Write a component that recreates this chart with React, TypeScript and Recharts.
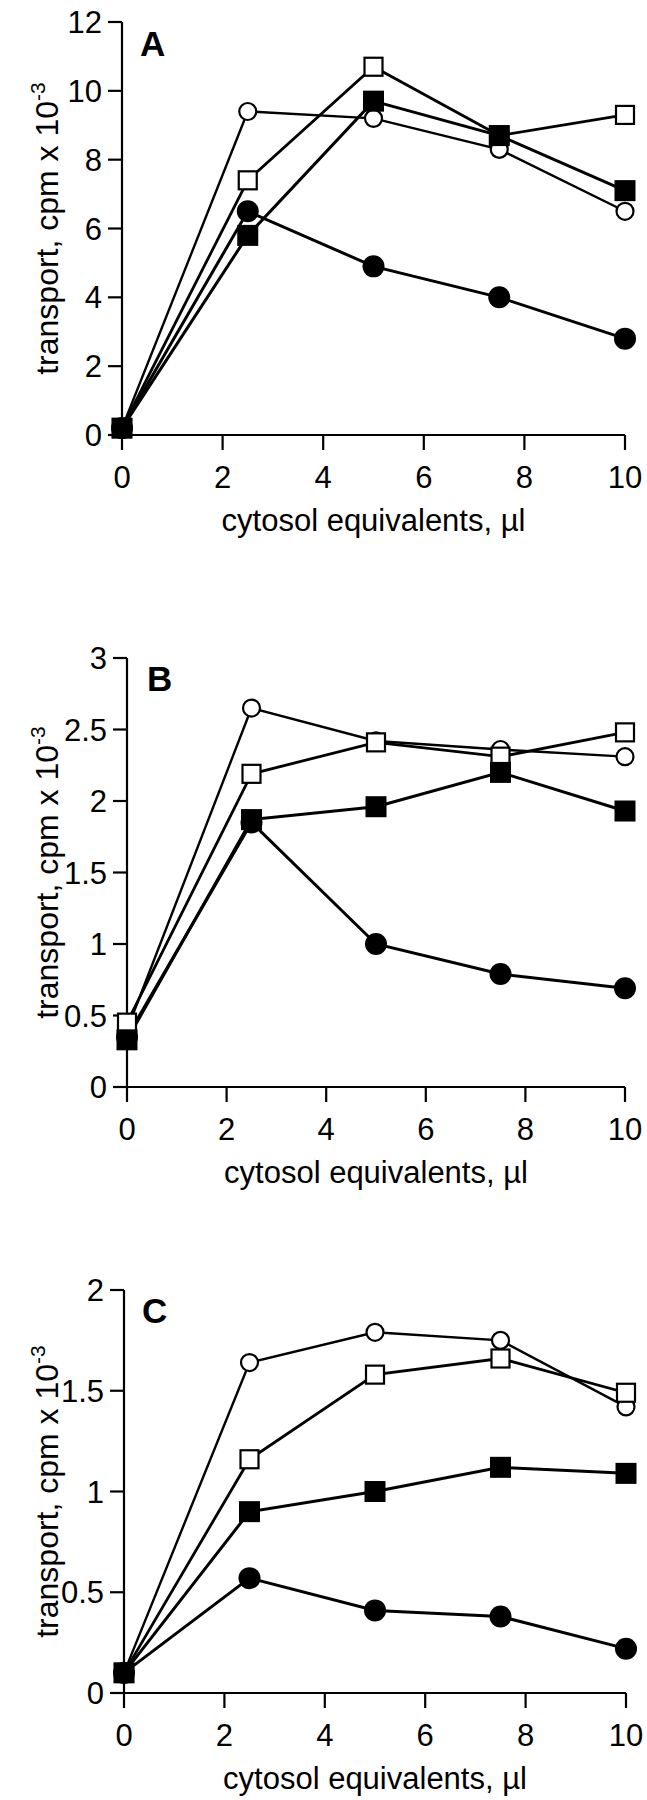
import React from "react";
import { LineChart, Line, XAxis, YAxis, Label } from "recharts";

// x values: cytosol equivalents (µl)
const cytosol = [0, 2.5, 5, 7.5, 10];
const xTicks = [0, 2, 4, 6, 8, 10];

// panel A
const aOpenCircle = [0.2, 9.4, 9.2, 8.3, 6.5];
const aOpenSquare = [0.2, 7.4, 10.7, 8.7, 9.3];
const aFilledSquare = [0.2, 5.8, 9.7, 8.7, 7.1];
const aFilledCircle = [0.2, 6.5, 4.9, 4.0, 2.8];
const aTicks = [0, 2, 4, 6, 8, 10, 12];

// panel B
const bOpenCircle = [0.4, 2.65, 2.42, 2.36, 2.31];
const bOpenSquare = [0.45, 2.19, 2.41, 2.31, 2.48];
const bFilledSquare = [0.33, 1.87, 1.96, 2.2, 1.93];
const bFilledCircle = [0.35, 1.85, 1.0, 0.79, 0.69];
const bTicks = [0, 0.5, 1, 1.5, 2, 2.5, 3];

// panel C
const cOpenCircle = [0.1, 1.64, 1.79, 1.75, 1.42];
const cOpenSquare = [0.1, 1.16, 1.58, 1.66, 1.49];
const cFilledSquare = [0.1, 0.9, 1.0, 1.12, 1.09];
const cFilledCircle = [0.1, 0.57, 0.41, 0.38, 0.22];
const cTicks = [0, 0.5, 1, 1.5, 2];

const FONT = "'Liberation Sans', Arial, sans-serif";

const buildRows = (oc: number[], os: number[], fs: number[], fc: number[]) =>
  cytosol.map((x, i) => ({ x, oc: oc[i], os: os[i], fs: fs[i], fc: fc[i] }));

const OpenCircle = (p: any) => (
  <circle key={p.key} cx={p.cx} cy={p.cy} r={8.5} fill="#fff" stroke="#000" strokeWidth={2.2} />
);
const FilledCircle = (p: any) => (
  <circle key={p.key} cx={p.cx} cy={p.cy} r={11} fill="#000" />
);
const OpenSquare = (p: any) => (
  <rect key={p.key} x={p.cx - 9} y={p.cy - 9} width={18} height={18} fill="#fff" stroke="#000" strokeWidth={2.2} />
);
const FilledSquare = (p: any) => (
  <rect key={p.key} x={p.cx - 10.5} y={p.cy - 10.5} width={21} height={21} fill="#000" />
);

const yTitle = (baseX: number) => (props: any) => {
  const vb = props.viewBox || {};
  const cy = vb.y + vb.height / 2;
  return (
    <text
      x={baseX}
      y={cy}
      transform={`rotate(-90, ${baseX}, ${cy})`}
      textAnchor="middle"
      fontFamily={FONT}
      fontSize={32}
      fill="#000"
    >
      transport, cpm x 10
      <tspan dy={-13} fontSize={21}>-3</tspan>
    </text>
  );
};

interface PanelProps {
  top: number;
  height: number;
  marginTop: number;
  marginRight: number;
  yWidth: number;
  xHeight: number;
  rows: any[];
  yTicks: number[];
}

function Panel({ top, height, marginTop, marginRight, yWidth, xHeight, rows, yTicks }: PanelProps) {
  const tickStyle = { fontFamily: FONT, fontSize: 31, fill: "#000" };
  const axisLine = { stroke: "#000", strokeWidth: 2.2 };
  return (
    <div style={{ position: "absolute", left: 0, top }}>
      <LineChart
        width={647}
        height={height}
        data={rows}
        margin={{ top: marginTop, right: marginRight, bottom: 0, left: 0 }}
      >
        <XAxis
          dataKey="x"
          type="number"
          domain={[0, 10]}
          ticks={xTicks}
          height={xHeight}
          tickSize={15}
          tickMargin={16}
          tick={tickStyle}
          axisLine={axisLine}
          tickLine={axisLine}
          interval={0}
        >
          <Label
            value="cytosol equivalents, µl"
            position="insideTop"
            offset={74}
            style={{ fontFamily: FONT, fontSize: 31, fill: "#000" }}
          />
        </XAxis>
        <YAxis
          type="number"
          domain={[yTicks[0], yTicks[yTicks.length - 1]]}
          ticks={yTicks}
          width={yWidth}
          tickSize={14}
          tickMargin={6}
          tick={tickStyle}
          axisLine={axisLine}
          tickLine={axisLine}
          interval={0}
        >
          <Label content={yTitle(58)} />
        </YAxis>
        <Line dataKey="fc" stroke="#000" strokeWidth={3} dot={FilledCircle} isAnimationActive={false} />
        <Line dataKey="oc" stroke="#000" strokeWidth={2.4} dot={OpenCircle} isAnimationActive={false} />
        <Line dataKey="os" stroke="#000" strokeWidth={2.8} dot={OpenSquare} isAnimationActive={false} />
        <Line dataKey="fs" stroke="#000" strokeWidth={3} dot={FilledSquare} isAnimationActive={false} />
      </LineChart>
    </div>
  );
}

export default function App() {
  const letterStyle = { fontFamily: FONT, fontSize: 35, fontWeight: 700, fill: "#000" } as any;
  return (
    <div style={{ position: "absolute", left: 0, top: 0, width: 647, height: 1800, background: "#fff" }}>
      <Panel
        top={0}
        height={560}
        marginTop={22}
        marginRight={22}
        yWidth={122}
        xHeight={125}
        rows={buildRows(aOpenCircle, aOpenSquare, aFilledSquare, aFilledCircle)}
        yTicks={aTicks}
      />
      <Panel
        top={560}
        height={640}
        marginTop={98}
        marginRight={22}
        yWidth={127}
        xHeight={113}
        rows={buildRows(bOpenCircle, bOpenSquare, bFilledSquare, bFilledCircle)}
        yTicks={bTicks}
      />
      <Panel
        top={1200}
        height={600}
        marginTop={90}
        marginRight={21}
        yWidth={124}
        xHeight={107}
        rows={buildRows(cOpenCircle, cOpenSquare, cFilledSquare, cFilledCircle)}
        yTicks={cTicks}
      />
      <svg width={647} height={1800} style={{ position: "absolute", left: 0, top: 0, pointerEvents: "none" }}>
        <text x={140} y={56} style={letterStyle}>A</text>
        <text x={147} y={691} style={letterStyle}>B</text>
        <text x={142} y={1323} style={letterStyle}>C</text>
      </svg>
    </div>
  );
}
